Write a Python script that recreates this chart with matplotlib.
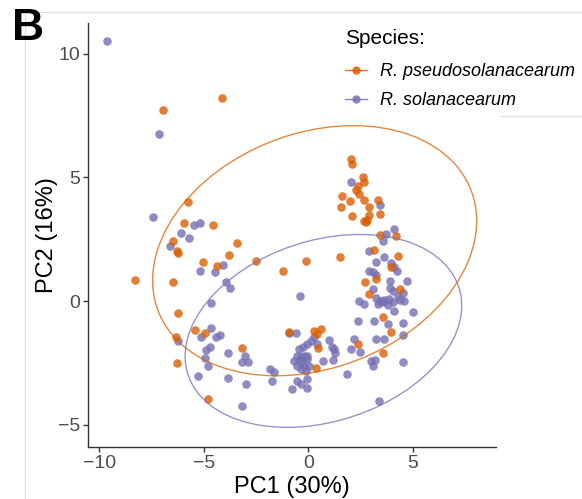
import numpy as np
import matplotlib
matplotlib.use("Agg")
import matplotlib.pyplot as plt
from matplotlib.patches import Ellipse
from matplotlib.lines import Line2D

plt.rcParams['font.family'] = ['Liberation Sans', 'DejaVu Sans']

# PCA scores
pseudo_pc1 = [-6.94, -4.12, 2.06, 2.11, 2.59, 2.66, 2.35, 2.27, 2.42, 1.59,
              1.99, 2.64, 3.31, 1.55, 2.90, 2.11, 2.90, 3.42, 2.66, 2.79,
              2.75, 3.42, 4.19, 3.14, 4.27, 3.95, -0.13, 1.51, -1.22, 2.71,
              3.23, 4.38, 2.90, 3.55, 3.95, 0.26, 0.59, 0.39, -0.94, 0.46,
              2.35, 3.55, 0.35, -6.22, -5.02, -3.82, -4.37, -2.49, -6.46, -6.25,
              -5.42, -4.94, -6.34, -3.17, -6.29, -4.78, -5.75, -5.93, -4.57, -6.49,
              -6.29, -3.41, -8.30]
pseudo_pc2 = [7.74, 8.22, 5.74, 5.55, 5.00, 4.81, 4.67, 4.50, 4.34, 4.27,
              4.06, 4.09, 4.09, 3.79, 3.79, 3.46, 3.50, 3.53, 3.26, 3.28,
              3.19, 2.68, 2.65, 2.07, 1.84, 1.39, 1.64, 1.77, 1.23, 0.76,
              0.91, 0.49, 0.29, -0.66, -1.24, -1.20, -1.11, -1.31, -1.23, -1.90,
              -1.74, -2.10, -2.70, 1.93, 1.57, 1.88, 1.43, 1.61, 0.76, -0.50,
              -1.16, -1.27, -1.44, -1.91, -2.52, -3.96, 4.02, 3.15, 3.09, 2.45,
              2.04, 2.34, 0.87]

sol_pc1 = [-9.65, -7.13, 2.06, 3.42, 4.10, 3.71, 3.55, 2.90, 3.62, 3.25,
           3.97, 4.10, 4.23, 2.89, 3.07, 3.23, 3.91, 4.74, 3.07, 3.91,
           4.03, 4.51, 4.27, 4.58, 3.23, 3.43, 3.62, 3.86, 4.03, 4.10,
           2.42, 2.66, 3.31, 3.55, 3.79, 4.99, 2.35, 3.14, 3.82, 4.51,
           4.51, 3.23, 3.62, 2.18, 2.47, 2.03, 2.99, 3.18, 3.07, 4.51,
           1.87, 1.22, 1.20, 0.71, 0.98, 3.38, -0.41, -0.94, -0.57, 0.26,
           0.11, -0.05, 0.43, -0.24, -0.46, 1.15, 1.26, -0.53, -0.37, -0.22,
           -0.05, -0.70, -0.46, -0.29, -0.05, -0.53, -0.22, 0.02, -0.37, -0.13,
           -1.85, -1.66, -1.73, -0.53, -0.37, -0.05, -0.05, -0.77, -4.06, -4.46,
           -5.18, -3.93, -3.74, -4.65, -4.66, -4.22, -4.41, -5.14, -6.22, -4.89,
           -4.70, -3.86, -4.94, -4.78, -3.01, -3.17, -2.90, -5.26, -3.86, -2.97,
           -3.17, -7.45, -5.46, -5.18, -6.09, -5.70, -6.62, 4.38]
sol_pc2 = [10.50, 6.77, 4.82, 3.89, 2.92, 2.72, 2.43, 2.01, 1.77, 1.59,
           1.55, 1.38, 1.22, 1.23, 1.16, 1.05, 0.83, 0.83, 0.49, 0.55,
           0.42, 0.33, 0.22, 0.02, 0.13, 0.02, 0.04, 0.09, -0.02, -0.39,
           0.02, -0.12, -0.12, -0.05, -0.15, -0.46, -0.79, -0.79, -0.93, -0.89,
           -1.37, -1.53, -1.53, -1.53, -2.05, -1.94, -2.41, -2.38, -2.64, -2.45,
           -2.94, -1.94, -2.38, -2.43, -1.58, -4.03, 0.22, -1.30, -1.28, -1.47,
           -1.60, -1.74, -1.74, -1.87, -1.94, -1.87, -2.08, -2.21, -2.28, -2.21,
           -2.21, -2.41, -2.41, -2.48, -2.34, -2.62, -2.62, -2.62, -2.75, -2.82,
           -2.75, -2.85, -3.25, -3.22, -3.36, -3.15, -3.52, -3.56, 1.47, 1.16,
           1.20, 0.76, 0.55, -0.09, -1.09, -1.36, -1.47, -1.47, -1.63, -1.97,
           -1.87, -2.08, -2.30, -2.62, -2.21, -2.48, -2.48, -3.02, -3.11, -3.36,
           -4.26, 3.39, 3.08, 3.16, 2.74, 2.54, 2.21, 0.06]

# 95% ellipses: centre, full width, full height, rotation (deg)
pseudo_ellipse = [0.30, 2.04, 15.8, 9.64, 14.2]
sol_ellipse = [0.72, -1.205, 13.46, 7.40, 12.7]

species = ['R. pseudosolanacearum', 'R. solanacearum']
colors = ['#D95F02', '#7570B3']

W, H = 582, 499
fig = plt.figure(figsize=(W / 100, H / 100), dpi=100)
ax = fig.add_axes([88 / W, 1 - 447 / H, (495.5 - 88) / W, (447 - 22.7) / H])

ax.scatter(sol_pc1, sol_pc2, s=38, color=colors[1], alpha=0.8, linewidths=0, zorder=2)
ax.scatter(pseudo_pc1, pseudo_pc2, s=38, color=colors[0], alpha=0.8, linewidths=0, zorder=2)

for params, col in zip([pseudo_ellipse, sol_ellipse], colors):
    cx, cy, w, h, ang = params
    ax.add_patch(Ellipse((cx, cy), w, h, angle=ang, fill=False,
                         edgecolor=col, lw=1.0, alpha=0.75, zorder=3))

ax.set_xlim(-10.54, 8.95)
ax.set_ylim(-5.9, 11.26)
ax.set_xticks([-10, -5, 0, 5])
ax.set_yticks([-5, 0, 5, 10])

for side in ['top', 'right']:
    ax.spines[side].set_visible(False)
for side in ['left', 'bottom']:
    ax.spines[side].set_color('#333333')
    ax.spines[side].set_linewidth(1.0)
ax.tick_params(length=3.5, width=1.0, color='#333333', labelcolor='#4D4D4D',
               labelsize=14, pad=2)

ax.set_xlabel('PC1 (30%)', fontsize=17, color='black', labelpad=3)
ax.set_ylabel('PC2 (16%)', fontsize=17, color='black', labelpad=0)

handles = [Line2D([0], [0], color=c, lw=1.0, marker='o', markersize=6,
                  markeredgewidth=0, alpha=0.85) for c in colors]
leg = fig.legend(handles, species, loc='upper left',
                 bbox_to_anchor=(345 / W, 1 - 29 / H), frameon=False,
                 prop={'size': 13, 'style': 'italic'}, title='Species:',
                 title_fontproperties={'size': 15}, handlelength=1.2,
                 handletextpad=0.75, labelspacing=0.65, borderpad=0,
                 borderaxespad=0)
leg._legend_box.align = 'left'
leg._legend_box.sep = 11

# panel letter and surrounding frame lines
fig.text(12 / W, 1 - 8 / H, 'B', fontsize=32, fontweight='bold', va='top', ha='left')
fig.add_artist(Line2D([25 / W, 1], [1 - 11.7 / H, 1 - 11.7 / H], color='#DDDDDD', lw=0.8))
fig.add_artist(Line2D([25 / W, 25 / W], [1 - 11.7 / H, 0], color='#DDDDDD', lw=0.8))
fig.add_artist(Line2D([500 / W, 1], [1 - 115.5 / H, 1 - 115.5 / H], color='#DDDDDD', lw=0.8))

fig.savefig('out.png', dpi=100)
